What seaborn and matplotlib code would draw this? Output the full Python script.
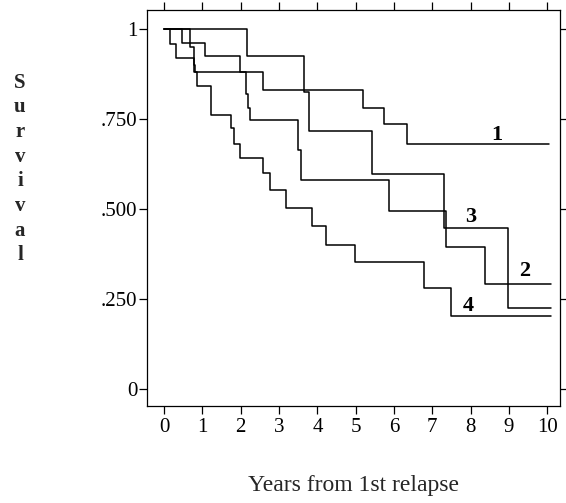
import pandas as pd
import matplotlib
matplotlib.use('Agg')
import matplotlib.pyplot as plt
import seaborn as sns

# step points (time in years, survival)
t1 = [0, 0.46, 1.07, 1.98, 2.59, 5.19, 5.73, 6.34, 10.05]
s1 = [1.0, 0.962, 0.925, 0.882, 0.832, 0.781, 0.736, 0.680, 0.680]

t2 = [0, 0.68, 0.77, 0.80, 2.14, 2.19, 2.23, 3.48, 3.58, 5.88, 7.36, 8.38, 10.1]
s2 = [1.0, 0.950, 0.900, 0.882, 0.820, 0.780, 0.747, 0.664, 0.582, 0.494, 0.395, 0.293, 0.293]

t3 = [0, 2.16, 3.66, 3.79, 5.42, 7.31, 8.97, 10.1]
s3 = [1.0, 0.926, 0.826, 0.717, 0.598, 0.448, 0.224, 0.224]

t4 = [0, 0.157, 0.305, 0.79, 0.85, 1.22, 1.74, 1.81, 1.98, 2.59, 2.77, 3.18,
      3.86, 4.23, 4.99, 6.77, 7.49, 10.1]
s4 = [1.0, 0.960, 0.921, 0.882, 0.842, 0.761, 0.724, 0.680, 0.643, 0.601, 0.553, 0.502,
      0.453, 0.400, 0.354, 0.280, 0.204, 0.204]

groups = ['1', '2', '3', '4']
label_x = [8.67, 9.40, 7.99, 7.94]
label_y = [0.705, 0.328, 0.477, 0.231]

xticks = list(range(0, 11))
yticks = [0, 0.25, 0.5, 0.75, 1.0]
ytick_labels = ['0', '.250', '.500', '.750', '1']

frames = []
for g, t, s in zip(groups, [t1, t2, t3, t4], [s1, s2, s3, s4]):
    frames.append(pd.DataFrame({'years': t, 'survival': s, 'group': g}))
df = pd.concat(frames, ignore_index=True)

sns.set_theme(style='ticks')
plt.rcParams['font.family'] = ['Liberation Serif', 'DejaVu Serif']

fig = plt.figure(figsize=(5.66, 5.03), dpi=100)
ax = fig.add_axes([0.260, 0.193, 0.730, 0.787])

sns.lineplot(data=df, x='years', y='survival', hue='group', units='group',
             estimator=None, sort=False, drawstyle='steps-post',
             palette=['black'] * 4, legend=False, linewidth=1.1, ax=ax)

for g, x, y in zip(groups, label_x, label_y):
    ax.text(x, y, g, fontsize=16, fontweight='bold', ha='center', va='center', color='black')

ax.set_xlim(-0.444, 10.34)
ax.set_ylim(-0.047, 1.053)
ax.set_xticks(xticks)
ax.set_xticklabels([str(v) for v in xticks])
ax.set_yticks(yticks)
ax.set_yticklabels(ytick_labels)
ax.tick_params(axis='both', direction='out', length=6, width=0.9, colors='black',
               labelsize=15, top=True, right=True)
ax.tick_params(axis='x', pad=3)
ax.tick_params(axis='y', pad=1)
for sp in ax.spines.values():
    sp.set_visible(True)
    sp.set_linewidth(0.9)
    sp.set_color('black')
ax.set_xlabel('')
ax.set_ylabel('')

fig.text(353 / 566, 1 - 485 / 503, 'Years from 1st relapse', fontsize=17,
         ha='center', va='center')
fig.text(20 / 566, 1 - 169 / 503, '\n'.join('Survival'), fontsize=15, fontweight='bold',
         ha='center', va='center', linespacing=1.31)

fig.savefig('out.png', dpi=100)
